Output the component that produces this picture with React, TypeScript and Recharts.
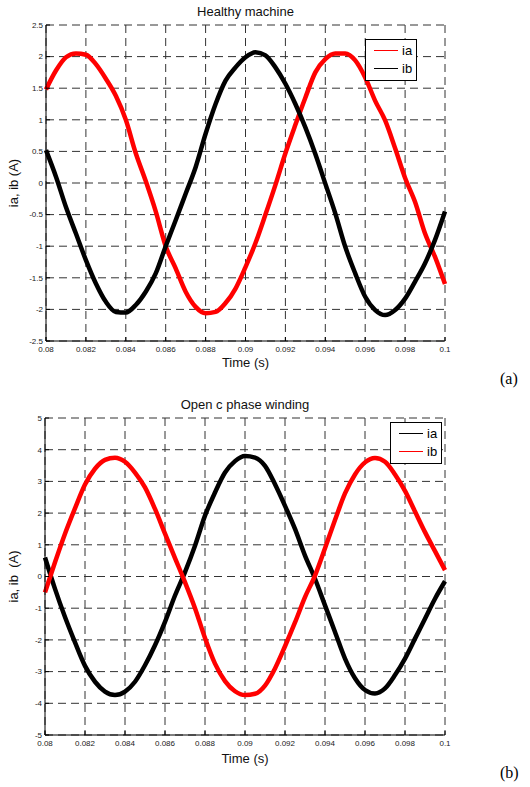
import { CartesianGrid, Legend, Line, LineChart, XAxis, YAxis } from 'recharts'

// sample times (s)
const time = [
  0.08, 0.0805, 0.081, 0.0815, 0.082, 0.0825, 0.083, 0.0835, 0.084, 0.0845,
  0.085, 0.0855, 0.086, 0.0865, 0.087, 0.0875, 0.088, 0.0885, 0.089, 0.0895,
  0.09, 0.0905, 0.091, 0.0915, 0.092, 0.0925, 0.093, 0.0935, 0.094, 0.0945,
  0.095, 0.0955, 0.096, 0.0965, 0.097, 0.0975, 0.098, 0.0985, 0.099, 0.0995, 0.1,
]

// (a) healthy machine
const healthyIa = [
  1.48, 1.78, 1.99, 2.05, 2.03, 1.88, 1.65, 1.38, 1.0, 0.47,
  0.03, -0.45, -1.0, -1.35, -1.72, -1.96, -2.06, -2.04, -1.9, -1.67,
  -1.33, -0.95, -0.5, -0.03, 0.47, 0.92, 1.35, 1.75, 1.96, 2.05,
  2.05, 1.94, 1.67, 1.3, 0.99, 0.55, 0.08, -0.3, -0.8, -1.17, -1.6,
]
const healthyIb = [
  0.52, 0.1, -0.38, -0.8, -1.22, -1.59, -1.88, -2.04, -2.05, -1.93,
  -1.72, -1.43, -1.0, -0.59, -0.17, 0.25, 0.78, 1.25, 1.62, 1.83,
  1.99, 2.07, 2.02, 1.83, 1.57, 1.25, 0.88, 0.46, -0.01, -0.48,
  -1.01, -1.43, -1.8, -2.01, -2.09, -2.01, -1.83, -1.56, -1.27, -0.9, -0.45,
]

// (b) open c phase winding
const openIa = [
  0.6, -0.39, -1.28, -2.08, -2.82, -3.32, -3.63, -3.74, -3.63, -3.32,
  -2.8, -2.17, -1.43, -0.6, 0.14, 0.97, 1.92, 2.65, 3.28, 3.64,
  3.8, 3.75, 3.49, 2.91, 2.23, 1.5, 0.66, -0.07, -0.91, -1.75,
  -2.59, -3.21, -3.58, -3.69, -3.53, -3.11, -2.59, -1.96, -1.33, -0.7, -0.15,
]
const openIb = [
  -0.5, 0.45, 1.35, 2.15, 2.9, 3.4, 3.68, 3.75, 3.62, 3.28,
  2.81, 2.13, 1.35, 0.58, -0.18, -1.0, -1.94, -2.75, -3.3, -3.62,
  -3.74, -3.7, -3.44, -2.9, -2.2, -1.45, -0.65, 0.03, 0.89, 1.78,
  2.62, 3.22, 3.6, 3.74, 3.62, 3.22, 2.7, 2.05, 1.4, 0.8, 0.2,
]

const timeTicks = [0.08, 0.082, 0.084, 0.086, 0.088, 0.09, 0.092, 0.094, 0.096, 0.098, 0.1]
const healthyTicks = [-2.5, -2, -1.5, -1, -0.5, 0, 0.5, 1, 1.5, 2, 2.5]
const openTicks = [-5, -4, -3, -2, -1, 0, 1, 2, 3, 4, 5]

const FONT = '"Liberation Sans", Arial, Helvetica, sans-serif'

function BoxLegend({ payload }: any) {
  return (
    <div
      style={{
        border: '1px solid #000',
        background: '#fff',
        width: 50,
        height: 39,
        boxSizing: 'content-box',
        fontFamily: FONT,
        fontSize: 13,
        color: '#000',
        paddingTop: 1,
      }}
    >
      {(payload || []).map((p: any) => (
        <div key={p.value} style={{ display: 'flex', alignItems: 'center', height: 18, paddingLeft: 8 }}>
          <span style={{ display: 'inline-block', width: 24, borderTop: `1.5px solid ${p.color}`, marginRight: 4 }} />
          <span>{p.value}</span>
        </div>
      ))}
    </div>
  )
}

interface PanelProps {
  title: string
  tag: string
  ia: number[]
  ib: number[]
  iaColor: string
  ibColor: string
  yTicks: number[]
  yLabel: string
  top: number
  height: number
  margin: { top: number; right: number; bottom: number; left: number }
  legendPos: { left: number; top: number }
  xLabelOffset: number
  yLabelOffset: number
  titleTop: number
  tagTop: number
}

function Panel(props: PanelProps) {
  const { ia, ib, yTicks, margin } = props
  const data = time.map((t, i) => ({ t, ia: ia[i], ib: ib[i] }))
  const yDomain = [yTicks[0], yTicks[yTicks.length - 1]]
  const plotLeft = margin.left + 40
  const plotWidth = 530 - margin.right - plotLeft

  return (
    <div style={{ position: 'absolute', left: 0, top: props.top, width: 530, height: props.height }}>
      <div
        style={{
          position: 'absolute',
          left: plotLeft,
          width: plotWidth,
          top: props.titleTop,
          textAlign: 'center',
          fontFamily: FONT,
          fontSize: 13,
          lineHeight: '16px',
          color: '#111',
        }}
      >
        {props.title}
      </div>
      <div
        style={{
          position: 'absolute',
          left: 500,
          top: props.tagTop,
          fontFamily: '"Liberation Serif", "Times New Roman", serif',
          fontSize: 16,
          lineHeight: '18px',
          color: '#000',
        }}
      >
        {props.tag}
      </div>
      <LineChart width={530} height={props.height} data={data} margin={margin}>
        <CartesianGrid stroke="#333" strokeDasharray="8 5" strokeWidth={1} />
        <XAxis
          dataKey="t"
          type="number"
          domain={[0.08, 0.1]}
          ticks={timeTicks}
          interval={0}
          height={30}
          stroke="#000"
          tickSize={-4}
          tickMargin={9}
          tick={{ fontSize: 8, fill: '#222', fontFamily: FONT }}
          label={{ value: 'Time (s)', position: 'insideBottom', offset: props.xLabelOffset, fontSize: 13, fill: '#111', fontFamily: FONT }}
        />
        <XAxis
          xAxisId="top"
          orientation="top"
          dataKey="t"
          type="number"
          domain={[0.08, 0.1]}
          ticks={timeTicks}
          interval={0}
          height={0}
          stroke="#000"
          tickSize={-4}
          tick={false}
        />
        <YAxis
          type="number"
          domain={yDomain}
          ticks={yTicks}
          interval={0}
          width={40}
          stroke="#000"
          tickSize={-4}
          tickMargin={7}
          tick={{ fontSize: 8, fill: '#222', fontFamily: FONT }}
          label={{
            value: props.yLabel,
            angle: -90,
            position: 'insideLeft',
            offset: props.yLabelOffset,
            fontSize: 13,
            fill: '#111',
            fontFamily: FONT,
            style: { textAnchor: 'middle' },
          }}
        />
        <YAxis
          yAxisId="right"
          orientation="right"
          type="number"
          domain={yDomain}
          ticks={yTicks}
          interval={0}
          width={0}
          stroke="#000"
          tickSize={-4}
          tick={false}
        />
        <Legend
          layout="horizontal"
          align="center"
          verticalAlign="middle"
          content={<BoxLegend />}
          wrapperStyle={{ left: props.legendPos.left, top: props.legendPos.top, width: 'auto' }}
        />
        <Line
          type="monotone"
          dataKey="ia"
          name="ia"
          stroke={props.iaColor}
          strokeWidth={4.5}
          dot={false}
          isAnimationActive={false}
        />
        <Line
          type="monotone"
          dataKey="ib"
          name="ib"
          stroke={props.ibColor}
          strokeWidth={4.5}
          dot={false}
          isAnimationActive={false}
        />
      </LineChart>
    </div>
  )
}

export default function App() {
  return (
    <div style={{ position: 'absolute', left: 0, top: 0, width: 530, height: 787, background: '#fff' }}>
      <Panel
        title="Healthy machine"
        tag="(a)"
        ia={healthyIa}
        ib={healthyIb}
        iaColor="#ff0000"
        ibColor="#000000"
        yTicks={healthyTicks}
        yLabel="ia, ib (A)"
        top={0}
        height={390}
        margin={{ top: 25, right: 85, bottom: 19, left: 6 }}
        legendPos={{ left: 365, top: 39 }}
        xLabelOffset={4}
        yLabelOffset={7}
        titleTop={4}
        tagTop={370}
      />
      <Panel
        title="Open c phase winding"
        tag="(b)"
        ia={openIa}
        ib={openIb}
        iaColor="#000000"
        ibColor="#ff0000"
        yTicks={openTicks}
        yLabel={'ia, ib\u00a0 (A)'}
        top={390}
        height={397}
        margin={{ top: 28, right: 85, bottom: 22, left: 5 }}
        legendPos={{ left: 390, top: 32 }}
        xLabelOffset={2}
        yLabelOffset={8}
        titleTop={7}
        tagTop={374}
      />
    </div>
  )
}
